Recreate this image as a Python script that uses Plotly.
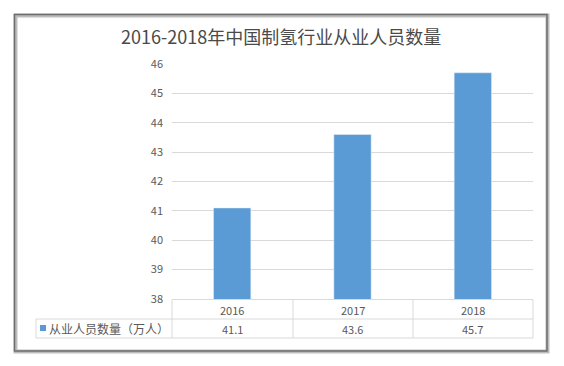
import plotly.graph_objects as go

title = "2016-2018年中国制氢行业从业人员数量"
years = ["2016", "2017", "2018"]
employees = [41.1, 43.6, 45.7]
series_name = "从业人员数量（万人）"
y_ticks = [38, 39, 40, 41, 42, 43, 44, 45, 46]

OFF = 8  # page body margin
W, H = 564 - OFF, 366 - OFF
L, R, T, B = 172, 533, 64, 299
BAR = "#5b9bd5"
TXT = "#595959"
GRID = "#d9d9d9"
FONT = "Noto Sans CJK SC"


def px(x):
    return (x - L) / (R - L)


def py(y):
    return (B - y) / (B - T)


fig = go.Figure(go.Bar(x=years, y=employees, marker_color=BAR, width=0.31,
                       name=series_name, showlegend=False))

shapes = []
shapes.append(dict(type="rect", xref="paper", yref="paper", x0=px(15.5), x1=px(547.5), y0=py(15.5), y1=py(351.5),
                   line=dict(color="#bdbdbd", width=4), layer="below"))
shapes.append(dict(type="rect", xref="paper", yref="paper", x0=px(14.5), x1=px(547), y0=py(14.5), y1=py(351),
                   line=dict(color="#6e6e6e", width=1.5), layer="below"))
tl = dict(color=GRID, width=1)
for xv in [172, 293, 413, 533]:
    shapes.append(dict(type="line", xref="paper", yref="paper", x0=px(xv), x1=px(xv), y0=py(300), y1=py(338), line=tl))
shapes.append(dict(type="line", xref="paper", yref="paper", x0=px(36), x1=px(36), y0=py(319), y1=py(338), line=tl))
shapes.append(dict(type="line", xref="paper", yref="paper", x0=px(172), x1=px(533), y0=py(299.5), y1=py(299.5), line=tl))
for yv in [319, 338]:
    shapes.append(dict(type="line", xref="paper", yref="paper", x0=px(36), x1=px(533), y0=py(yv), y1=py(yv), line=tl))
shapes.append(dict(type="rect", xref="paper", yref="paper", x0=px(40), x1=px(46), y0=py(325), y1=py(331),
                   fillcolor=BAR, line=dict(width=0)))

ann = []
for i, (yr, v) in enumerate(zip(years, employees)):
    ann.append(dict(x=i, xref="x", y=py(309.5), yref="paper", text=yr, showarrow=False,
                    xanchor="center", yanchor="middle", font=dict(size=11, color=TXT, family=FONT)))
    ann.append(dict(x=i, xref="x", y=py(328.5), yref="paper", text=f"{v}", showarrow=False,
                    xanchor="center", yanchor="middle", font=dict(size=11, color=TXT, family=FONT)))
ann.append(dict(x=px(47), xref="paper", y=py(328.5), yref="paper", text=series_name, showarrow=False,
                xanchor="left", yanchor="middle", font=dict(size=12, color=TXT, family=FONT)))
ann.append(dict(x=px(281), xref="paper", y=py(36), yref="paper", text=title, showarrow=False,
                xanchor="center", yanchor="middle", font=dict(size=18, color="#4a4a4a", family=FONT)))

fig.update_layout(
    width=W, height=H,
    margin=dict(l=L - OFF, r=W - (R - OFF), t=T - OFF, b=H - (B - OFF), pad=0),
    paper_bgcolor="white", plot_bgcolor="white",
    xaxis=dict(type="category", range=[-0.5, 2.5], showticklabels=False, showgrid=False,
               zeroline=False, showline=False, ticks=""),
    yaxis=dict(range=[38, 46], tickvals=y_ticks, showgrid=True, gridcolor=GRID, gridwidth=1,
               zeroline=False, showline=False, ticks="", ticklabelstandoff=8,
               tickfont=dict(size=11, color=TXT, family=FONT)),
    shapes=shapes, annotations=ann,
    font=dict(family=FONT),
)

fig.write_html("out.html")
